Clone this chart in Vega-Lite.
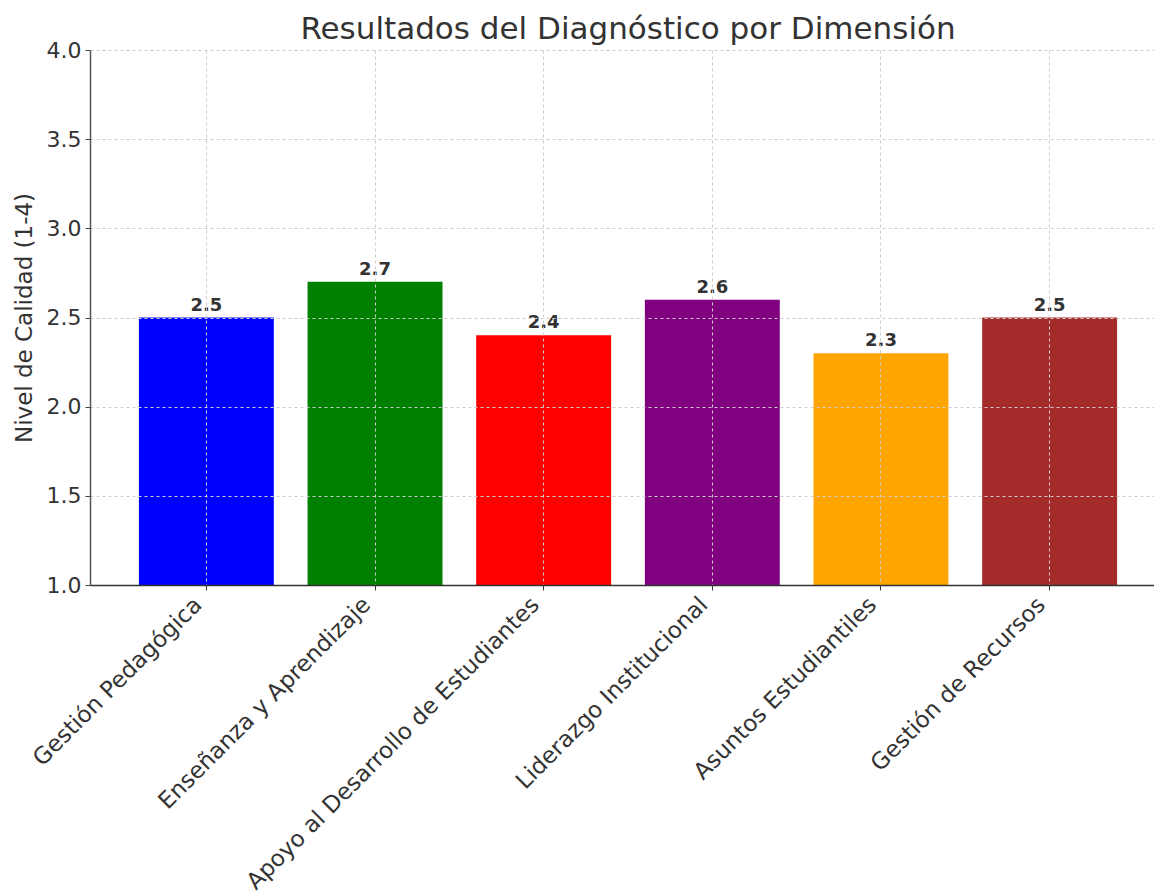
{
  "$schema": "https://vega.github.io/schema/vega-lite/v6.json",
  "width": 1064,
  "height": 535,
  "autosize": {"type": "none"},
  "padding": {"left": 90, "top": 50, "right": 0, "bottom": 306},
  "config": {"view": {"stroke": null}, "font": "DejaVu Sans"},
  "title": {"text": "Resultados del Diagnóstico por Dimensión", "fontSize": 31, "fontWeight": "normal", "color": "#333333", "anchor": "middle", "offset": -7, "dx": 6},
  "data": {"values": [
    {"dim": "Gestión Pedagógica", "valor": 2.5},
    {"dim": "Enseñanza y Aprendizaje", "valor": 2.7},
    {"dim": "Apoyo al Desarrollo de Estudiantes", "valor": 2.4},
    {"dim": "Liderazgo Institucional", "valor": 2.6},
    {"dim": "Asuntos Estudiantiles", "valor": 2.3},
    {"dim": "Gestión de Recursos", "valor": 2.5}
  ]},
  "encoding": {
    "x": {"field": "dim", "type": "nominal", "sort": null,
      "scale": {"range": [0, 1076], "paddingInner": 0.2, "paddingOuter": 0.29},
      "axis": {"title": null, "labelAngle": -45, "labelAlign": "right", "labelBaseline": "top", "labelFontSize": 23, "labelColor": "#333333", "labelPadding": 3, "labelOffset": -16, "labelLimit": 0, "bandPosition": 0.5, "tickSize": 5, "tickColor": "#333333", "domainColor": "#333333", "domainWidth": 1.5, "grid": true, "gridDash": [3, 3], "gridColor": "#cccccc", "zindex": 1}
    }
  },
  "layer": [
    {
      "mark": {"type": "bar"},
      "encoding": {
        "y": {"field": "valor", "type": "quantitative",
          "scale": {"domain": [1, 4], "zero": false, "nice": false},
          "axis": {"title": "Nivel de Calidad (1-4)", "titleFontSize": 23, "titleFontWeight": "normal", "titleColor": "#333333", "titlePadding": 10, "values": [1, 1.5, 2, 2.5, 3, 3.5, 4], "format": ".1f", "labelFontSize": 22, "labelColor": "#333333", "labelPadding": 4, "tickSize": 5, "tickColor": "#444444", "domainColor": "#555555", "domainWidth": 1.5, "grid": true, "gridDash": [3, 3], "gridColor": "#cccccc", "zindex": 1}
        },
        "y2": {"datum": 1},
        "color": {"field": "dim", "type": "nominal", "legend": null,
          "scale": {"domain": ["Gestión Pedagógica", "Enseñanza y Aprendizaje", "Apoyo al Desarrollo de Estudiantes", "Liderazgo Institucional", "Asuntos Estudiantiles", "Gestión de Recursos"],
            "range": ["#0000ff", "#008000", "#ff0000", "#800080", "#ffa500", "#a52a2a"]}}
      }
    },
    {
      "mark": {"type": "text", "baseline": "bottom", "dy": -3, "fontSize": 18, "fontWeight": "bold", "color": "#333333"},
      "encoding": {
        "y": {"field": "valor", "type": "quantitative"},
        "text": {"field": "valor", "type": "quantitative", "format": ".1f"}
      }
    }
  ]
}
